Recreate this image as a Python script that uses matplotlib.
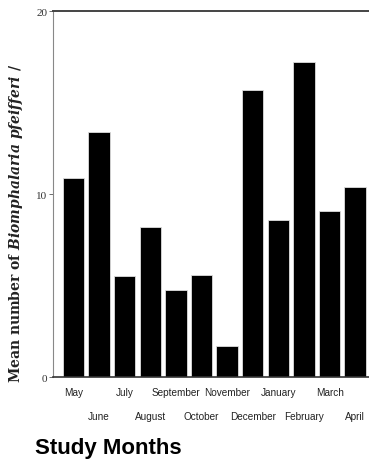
import matplotlib
matplotlib.use("Agg")
import matplotlib.pyplot as plt

months_top = ["May", "June", "July", "August", "September", "October",
              "November", "December", "January", "February", "March", "April"]
values = [10.9, 13.4, 5.5, 8.2, 4.75, 5.6, 1.7, 15.7, 8.6, 17.2, 9.1, 10.4]
yticks = [0, 10, 20]

plt.rcParams['mathtext.fontset'] = 'custom'
plt.rcParams['mathtext.it'] = 'DejaVu Serif:bold:italic'
plt.rcParams['mathtext.rm'] = 'DejaVu Serif:bold'

fig = plt.figure(figsize=(3.69, 4.64), dpi=100)
ax = fig.add_axes([0.1436, 0.1853, 0.8564, 0.974 - 0.1853])

x = list(range(len(months_top)))
ax.bar(x, values, width=0.84, color="black", edgecolor="#dddddd", linewidth=0.6)

ax.set_xlim(-0.80, 11.54)
ax.set_ylim(0, 20)
ax.set_yticks(yticks)
ax.set_yticklabels([str(t) for t in yticks], family="Liberation Serif", fontsize=8, color="#333333")
ax.tick_params(axis="y", length=3, width=0.6, color="#555555", pad=1)

ax.set_xticks(x)
ax.set_xticklabels([])
ax.tick_params(axis="x", length=0)
for i, m in enumerate(months_top):
    off = 0 if i % 2 == 0 else 1
    ax.annotate(m, xy=(i, 0), xycoords=("data", "axes fraction"),
                xytext=(0, -15 - off * 24), textcoords="offset pixels",
                ha="center", va="center", fontsize=7.2,
                family="Liberation Sans", color="#222222")

ax.spines["right"].set_visible(False)
ax.spines["left"].set_color("#888888")
ax.spines["left"].set_linewidth(0.8)
ax.spines["top"].set_color("#444444")
ax.spines["top"].set_linewidth(1.4)
ax.spines["bottom"].set_color("#333333")
ax.spines["bottom"].set_linewidth(1.2)

fig.text(0.043, 0.519, r"Mean number of $Biomphalaria\ pfeifferi$ /",
         rotation=90, ha="center", va="center", fontsize=10,
         family="DejaVu Serif", fontweight="bold", color="#222222")

fig.text(0.095, 0.022, "Study Months", ha="left", va="baseline",
         fontsize=16, fontweight="bold", family="Liberation Sans", color="black")

fig.savefig("out.png", dpi=100)
